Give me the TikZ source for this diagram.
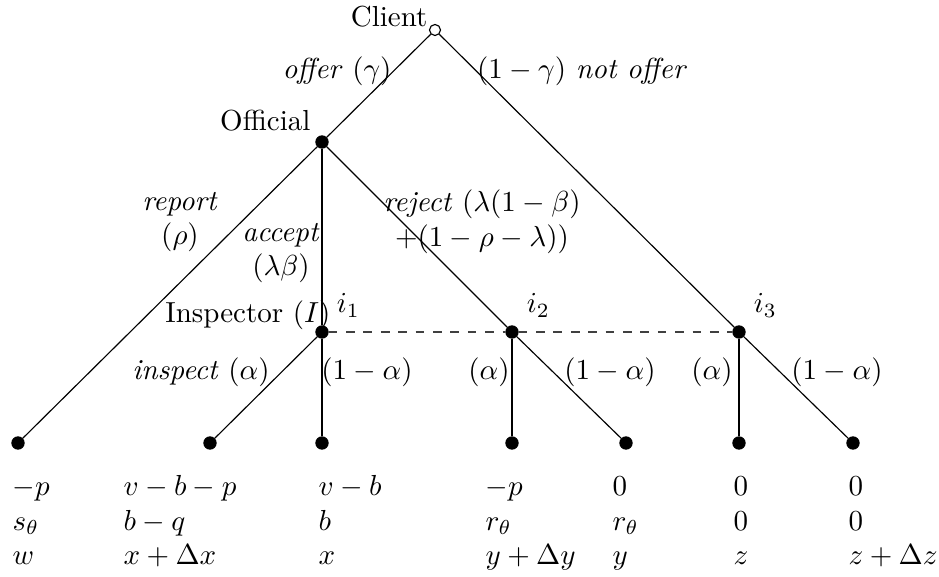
\documentclass[tikz,border=0pt]{standalone}
\usetikzlibrary{positioning}
\tikzset{
  decision/.style={circle, draw, fill=black, inner sep=0pt, minimum size=4.2pt},
  chance/.style={circle, draw, fill=white, inner sep=0pt, minimum size=3.8pt},
  terminal/.style={decision},
  infoset/.style={dashed, draw=black!75},
  plab/.style={anchor=base east, inner sep=0pt},
  elab/.style={inner sep=1pt, align=center},
  payoff/.style={anchor=base west, inner sep=0pt, align=left}
}

\begin{document}
\begin{tikzpicture}[x=0.345pt, y=-0.345pt]
\useasboundingbox (0,0) rectangle (939,577);

% game nodes
\node[chance] (client) at (435,30) {};
\node[decision] (official) at (322,142) {};
\node[decision] (i1) at (322,332) {};
\node[decision] (i2) at (512,332) {};
\node[decision] (i3) at (739,332) {};

% terminal nodes
\node[terminal] (t1) at (18,443) {};
\node[terminal] (t2) at (210,443) {};
\node[terminal] (t3) at (322,443) {};
\node[terminal] (t4) at (512,443) {};
\node[terminal] (t5) at (626,443) {};
\node[terminal] (t6) at (739,443) {};
\node[terminal] (t7) at (853,443) {};

% branches
\draw (client) -- (official);
\draw (client) -- (i3);
\draw (official) -- (t1);
\draw (official) -- (i1);
\draw (official) -- (i2);
\draw (i1) -- (t2);
\draw (i1) -- (t3);
\draw (i2) -- (t4);
\draw (i2) -- (t5);
\draw (i3) -- (t6);
\draw (i3) -- (t7);

% information set
\draw[infoset] (i1) -- (i2) -- (i3);

% players
\node[plab] (lclient) at (428,27) {Client};
\node[plab] (lofficial) at (311,131) {Official};
\node[plab] (linsp) at (331,323) {Inspector $(I)$};
\node[above right=0pt of i1] (li1) {$i_1$};
\node[above right=0pt of i2] (li2) {$i_2$};
\node[above right=0pt of i3] (li3) {$i_3$};

% moves
\node[elab] (offer) at (337,71) {\textit{offer} $(\gamma)$};
\node[elab] (notoffer) at (582,71) {$(1-\gamma)$ \textit{not offer}};
\node[elab] (report) at (180,222) {\textit{report}\\$(\rho)$};
\node[elab] (accept) at (281,253) {\textit{accept}\\$(\lambda\beta)$};
\node[elab] (reject) at (482,222) {\textit{reject} $(\lambda(1-\beta)$\\$+(1-\rho-\lambda))$};
\node[elab] (insp1) at (201,372) {\textit{inspect} $(\alpha)$};
\node[elab] (noinsp1) at (367,372) {$(1-\alpha)$};
\node[elab] (insp2) at (489,372) {$(\alpha)$};
\node[elab] (noinsp2) at (610,372) {$(1-\alpha)$};
\node[elab] (insp3) at (712,372) {$(\alpha)$};
\node[elab] (noinsp3) at (837,372) {$(1-\alpha)$};

% payoffs (client, official, inspector)
\node[payoff] (p1) at (12,565) {$-p$\\$s_\theta$\\$w$};
\node[payoff] (p2) at (123,565) {$v-b-p$\\$b-q$\\$x+\Delta x$};
\node[payoff] (p3) at (318,565) {$v-b$\\$b$\\$x$};
\node[payoff] (p4) at (485,565) {$-p$\\$r_\theta$\\$y+\Delta y$};
\node[payoff] (p5) at (612,565) {$0$\\$r_\theta$\\$y$};
\node[payoff] (p6) at (733,565) {$0$\\$0$\\$z$};
\node[payoff] (p7) at (848,565) {$0$\\$0$\\$z+\Delta z$};
\end{tikzpicture}
\end{document}
